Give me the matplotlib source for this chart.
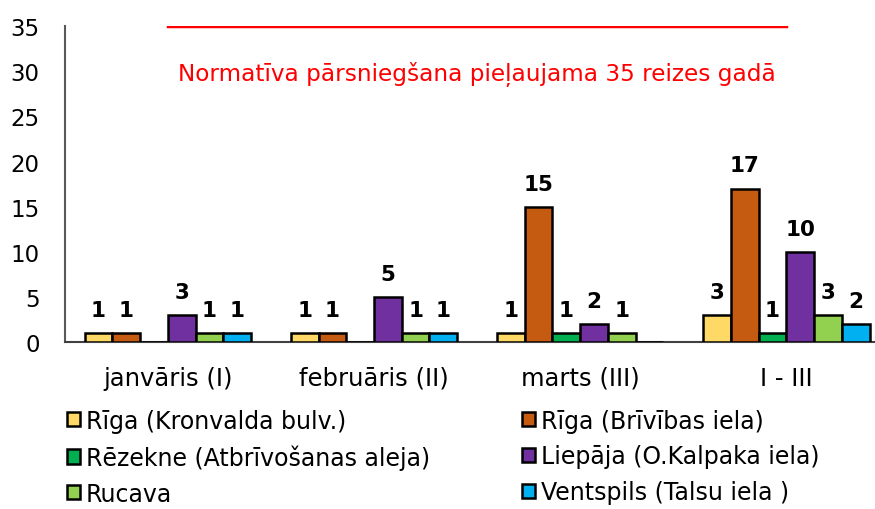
import numpy as np
import matplotlib.pyplot as plt

categories = ['janvāris (I)', 'februāris (II)', 'marts (III)', 'I - III']
series = ['Rīga (Kronvalda bulv.)', 'Rīga (Brīvības iela)',
          'Rēzekne (Atbrīvošanas aleja)', 'Liepāja (O.Kalpaka iela)',
          'Rucava', 'Ventspils (Talsu iela )']
riga_k = [1, 1, 1, 3]
riga_b = [1, 1, 15, 17]
rezekne = [0, 0, 1, 1]
liepaja = [3, 5, 2, 10]
rucava = [1, 1, 1, 3]
ventspils = [1, 1, 0, 2]
limit = [35, 35, 35, 35]
limit_text = 'Normatīva pārsniegšana pieļaujama 35 reizes gadā'

colors = ['#FFD966', '#C55A11', '#00B050', '#7030A0', '#92D050', '#00B0F0']
values = [riga_k, riga_b, rezekne, liepaja, rucava, ventspils]

plt.rcParams['font.family'] = ['DejaVu Sans']
fig = plt.figure(figsize=(8.75, 5.1), dpi=100)
ax = fig.add_axes([0.074, 0.327, 0.926, 0.62])

x = np.arange(len(categories))
w = 0.1345
handles = []
for i, (name, vals, c) in enumerate(zip(series, values, colors)):
    pos = x + (i - 2.5) * w
    b = ax.bar(pos, vals, w, color=c, edgecolor='black', linewidth=1.8,
               label=name, zorder=3)
    handles.append(b)
    for px, v in zip(pos, vals):
        if v > 0:
            ax.annotate(str(v), (px, v), xytext=(0, 9.5), textcoords='offset points',
                        ha='center', va='bottom', fontsize=15.5, fontweight='bold')

ax.plot(x, limit, color='#FF0000', linewidth=2.5, zorder=2)
ax.text(1.5, 29.7, limit_text, color='#FF0000', fontsize=16.7,
        ha='center', va='center')

ax.set_ylim(0, 35)
ax.set_xlim(-0.5, 3.43)
ax.set_yticks(range(0, 36, 5))
ax.set_xticks(x)
ax.set_xticklabels(categories, fontsize=17.5)
ax.tick_params(axis='y', labelsize=16.5, length=0, pad=18)
ax.tick_params(axis='x', length=0, pad=17)
for s in ['top', 'right']:
    ax.spines[s].set_visible(False)
ax.spines['left'].set_color('#595959')
ax.spines['bottom'].set_color('#404040')
ax.spines['left'].set_linewidth(1.5)
ax.spines['bottom'].set_linewidth(1.5)

order = [0, 2, 4, 1, 3, 5]
fig.legend([handles[i] for i in order], [series[i] for i in order],
           ncol=2, loc='upper left', bbox_to_anchor=(0.063, 0.22),
           frameon=False, fontsize=17, handlelength=0.55, handleheight=0.55,
           handletextpad=0.25, columnspacing=3.9, labelspacing=0.5,
           borderpad=0)

fig.savefig('out.png', dpi=100)
